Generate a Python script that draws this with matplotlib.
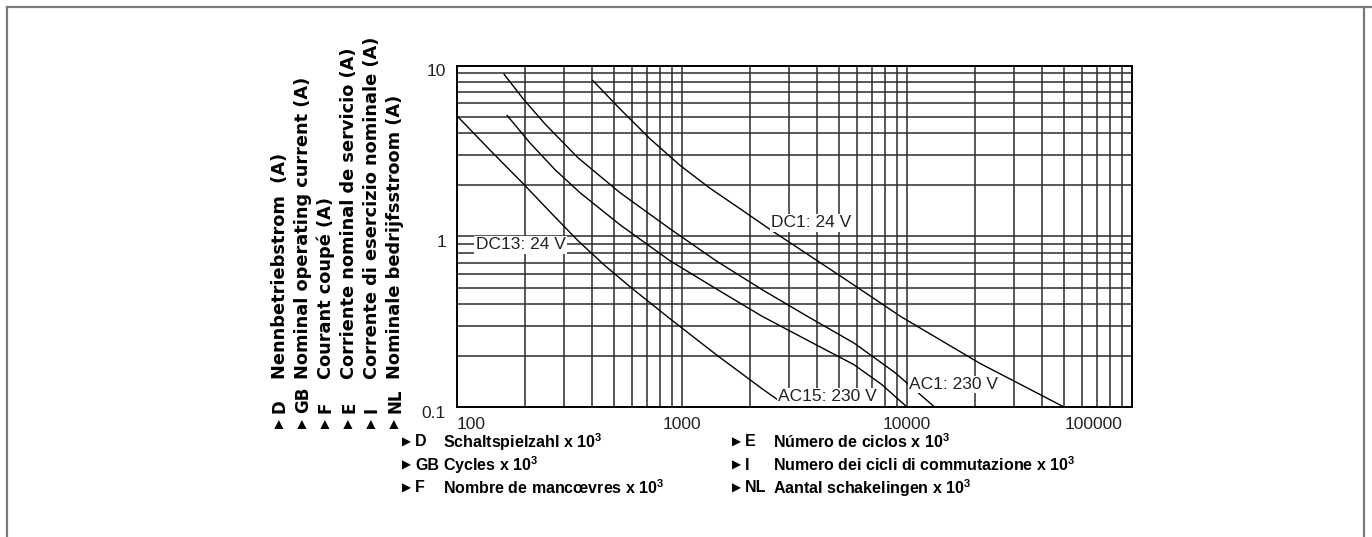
import matplotlib
matplotlib.use("Agg")
import matplotlib.pyplot as plt
import matplotlib.transforms as mtransforms
from matplotlib import font_manager
from matplotlib.lines import Line2D

# switching cycles (x 10^3) vs nominal operating current (A)
dc13_cycles = [100, 140, 197, 259, 345, 455, 594, 884, 1416, 2268, 2958]
dc13_current = [5.07, 3.20, 2.03, 1.39, 0.941, 0.672, 0.50, 0.329, 0.203, 0.128, 0.10]

ac15_cycles = [167, 211, 273, 352, 530, 884, 1416, 2268, 3631, 5812, 7743, 10000]
ac15_current = [5.10, 3.52, 2.45, 1.80, 1.168, 0.719, 0.493, 0.340, 0.245, 0.177, 0.135, 0.10]

ac1_cycles = [162, 197, 246, 345, 530, 884, 1416, 2268, 3631, 5812, 8844, 13255]
ac1_current = [8.88, 6.37, 4.55, 2.88, 1.80, 1.106, 0.719, 0.487, 0.338, 0.237, 0.159, 0.10]

dc1_cycles = [402, 530, 721, 980, 1332, 1810, 2512, 5038, 9404, 21110, 49860]
dc1_current = [8.15, 5.57, 3.72, 2.60, 1.91, 1.45, 1.077, 0.587, 0.338, 0.180, 0.10]

curve_names = ["DC13: 24 V", "AC15: 230 V", "AC1: 230 V", "DC1: 24 V"]

x_ticks = [100, 1000, 10000, 100000]
x_tick_labels = ["100", "1000", "10000", "100000"]
y_ticks = [0.1, 1, 10]
y_tick_labels = ["0.1", "1", "10"]

y_codes = ["D", "GB", "F", "E", "I", "NL"]
y_titles = ["Nennbetriebstrom  (A)", "Nominal operating current (A)", "Courant coupé (A)",
            "Corriente nominal de servicio (A)", "Corrente di esercizio nominale (A)",
            "Nominale bedrijfsstroom (A)"]

x_codes = ["D", "GB", "F", "E", "I", "NL"]
x_titles = ["Schaltspielzahl", "Cycles", "Nombre de mancœvres",
            "Número de ciclos", "Numero dei cicli di commutazione", "Aantal schakelingen"]

W, H = 1372, 537
available = {f.name for f in font_manager.fontManager.ttflist}
narrow = "Liberation Sans Narrow" in available
legend_font = ["Liberation Sans Narrow", "DejaVu Sans"] if narrow else ["Liberation Sans", "DejaVu Sans"]
legend_size = 13.5 if narrow else 11.5

plt.rcParams["font.family"] = ["Liberation Sans", "DejaVu Sans"]
plt.rcParams["mathtext.default"] = "regular"


def fx(px):
    return px / W


def fy(py):
    return 1 - py / H


fig = plt.figure(figsize=(W / 100, H / 100), dpi=100)
fig.patch.set_facecolor("white")

# thin grey frame around the picture
frame_kw = dict(transform=fig.transFigure, color="#7a7a7a", lw=1.6)
fig.add_artist(Line2D([fx(7), fx(1372)], [fy(7), fy(7)], **frame_kw))
fig.add_artist(Line2D([fx(7), fx(7)], [fy(7), 0], **frame_kw))
fig.add_artist(Line2D([fx(1364), fx(1364)], [fy(7), 0], **frame_kw))

ax = fig.add_axes([fx(457), fy(407), 675 / W, 341.5 / H])
ax.set_xscale("log")
ax.set_yscale("log")
ax.set_xlim(100, 100000)
ax.set_ylim(0.1, 10)

ax.grid(True, which="both", color="#2b2b2b", lw=1.1)
ax.set_axisbelow(True)
for s in ax.spines.values():
    s.set_color("black")
    s.set_linewidth(1.4)

ax.set_xticks(x_ticks)
ax.set_xticklabels(x_tick_labels)
ax.set_yticks(y_ticks)
ax.set_yticklabels(y_tick_labels)
ax.tick_params(which="both", length=0, labelsize=12.5, colors="#222222")
ax.tick_params(axis="x", pad=7)
ax.tick_params(axis="y", pad=8)

xl = ax.get_xticklabels()
xl[0].set_horizontalalignment("left")
xl[-1].set_horizontalalignment("right")
xl[-1].set_transform(xl[-1].get_transform() + mtransforms.ScaledTranslation(-0.1, 0, fig.dpi_scale_trans))
for lbl in ax.get_yticklabels():
    lbl.set_transform(lbl.get_transform() + mtransforms.ScaledTranslation(0, -0.05, fig.dpi_scale_trans))

curves = [(dc13_cycles, dc13_current), (ac15_cycles, ac15_current),
          (ac1_cycles, ac1_current), (dc1_cycles, dc1_current)]
for cx, cy in curves:
    ax.plot(cx, cy, color="black", lw=1.0, solid_joinstyle="round")

label_pos = [(121, 0.89), (2670, 0.115), (10200, 0.1355), (2490, 1.2)]
for name, (lx, ly) in zip(curve_names, label_pos):
    ax.text(lx, ly, name, fontsize=12.5, color="#222222", ha="left", va="center",
            bbox=dict(boxstyle="square,pad=0.08", fc="white", ec="none"))

# rotated y-axis titles in six languages
col_x = [280, 303, 326, 349, 372, 395]
for cx, code, title in zip(col_x, y_codes, y_titles):
    fig.text(fx(cx), fy(423), "▶", rotation=90, ha="center", va="center",
             fontsize=8.5, family=["DejaVu Sans"])
    fig.text(fx(cx), fy(413), code, rotation=90, ha="center", va="bottom",
             fontsize=12, fontweight="bold", family=["DejaVu Sans"])
    fig.text(fx(cx), fy(379), title, rotation=90, ha="center", va="bottom",
             fontsize=12.8, fontweight="bold", family=["DejaVu Sans"])

# x-axis titles, two columns of three rows
row_y = [442, 465, 488]
col_starts = [(402, 415, 443), (732, 745, 773)]
for i, (code, title) in enumerate(zip(x_codes, x_titles)):
    ax_px, code_px, text_px = col_starts[i // 3]
    yy = fy(row_y[i % 3])
    fig.text(fx(ax_px), yy, "▶", ha="left", va="center", fontsize=8.5, family=["DejaVu Sans"])
    fig.text(fx(code_px), yy, code, ha="left", va="center", fontsize=legend_size,
             fontweight="bold", family=legend_font)
    fig.text(fx(text_px), yy, title + " x 10$^{3}$", ha="left", va="center",
             fontsize=legend_size, fontweight="bold", family=legend_font)

fig.savefig("out.png", dpi=100)
